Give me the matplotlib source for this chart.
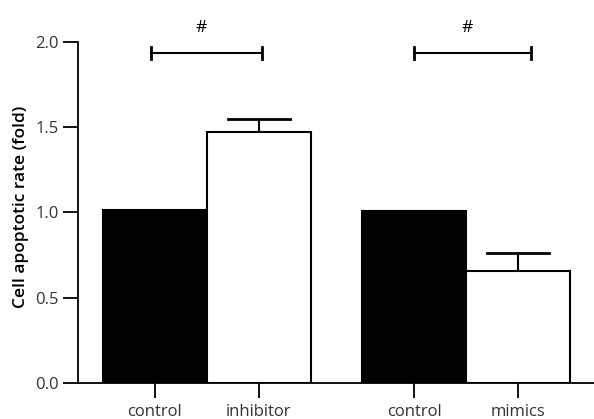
import matplotlib
matplotlib.use("Agg")
import matplotlib.pyplot as plt

# data
groups = ["control", "inhibitor", "control", "mimics"]
values = [1.015, 1.475, 1.008, 0.659]
errors = [0.0, 0.076, 0.0, 0.103]
colors = ["black", "white", "black", "white"]
positions = [0, 1, 2.5, 3.5]
yticks = [0.0, 0.5, 1.0, 1.5, 2.0]

plt.rcParams['font.family'] = ['Open Sans', 'DejaVu Sans']

fig = plt.figure(figsize=(5.94, 4.19), dpi=100)
ax = fig.add_axes([0.1313, 0.0859, 0.8687, 0.8139])

ax.bar(positions, values, width=1.0, color=colors, edgecolor="black",
       linewidth=1.5, zorder=2)
# error bars, upper side only
ax.errorbar(positions, values, yerr=[[0] * 4, errors], fmt="none",
            ecolor="black", elinewidth=1.5, capsize=0, zorder=1)
for x, v, e in zip(positions, values, errors):
    if e > 0:
        ax.plot([x - 0.3, x + 0.3], [v + e, v + e], color="black", lw=2, zorder=1)

# significance brackets
brackets = [(-0.04, 1.03), (2.5, 3.63)]
for x0, x1 in brackets:
    ax.plot([x0, x1], [1.936, 1.936], color="black", lw=1.5, clip_on=False)
    for xe in (x0, x1):
        ax.plot([xe, xe], [1.9, 1.972], color="black", lw=2, clip_on=False)
    ax.text((x0 + x1) / 2 - 0.05, 2.08, "#", ha="center", va="center",
            fontsize=12.5, clip_on=False)

ax.set_xlim(-0.742, 4.233)
ax.set_ylim(0, 2.0)
ax.set_yticks(yticks)
ax.set_yticklabels(["%.1f" % t for t in yticks])
ax.set_xticks(positions)
ax.set_xticklabels(groups)

for s in ["top", "right"]:
    ax.spines[s].set_visible(False)
ax.spines["left"].set_linewidth(1.3)
ax.spines["bottom"].set_linewidth(1.3)
ax.tick_params(axis="both", length=11, width=1.3, labelsize=12,
               labelcolor="#333333", pad=3)
ax.tick_params(axis="x", pad=4)
ax.set_ylabel("Cell apoptotic rate (fold)", fontsize=12.5, fontweight="semibold")
ax.yaxis.set_label_coords(-0.095, 0.516)

fig.savefig("out.png", dpi=100)
